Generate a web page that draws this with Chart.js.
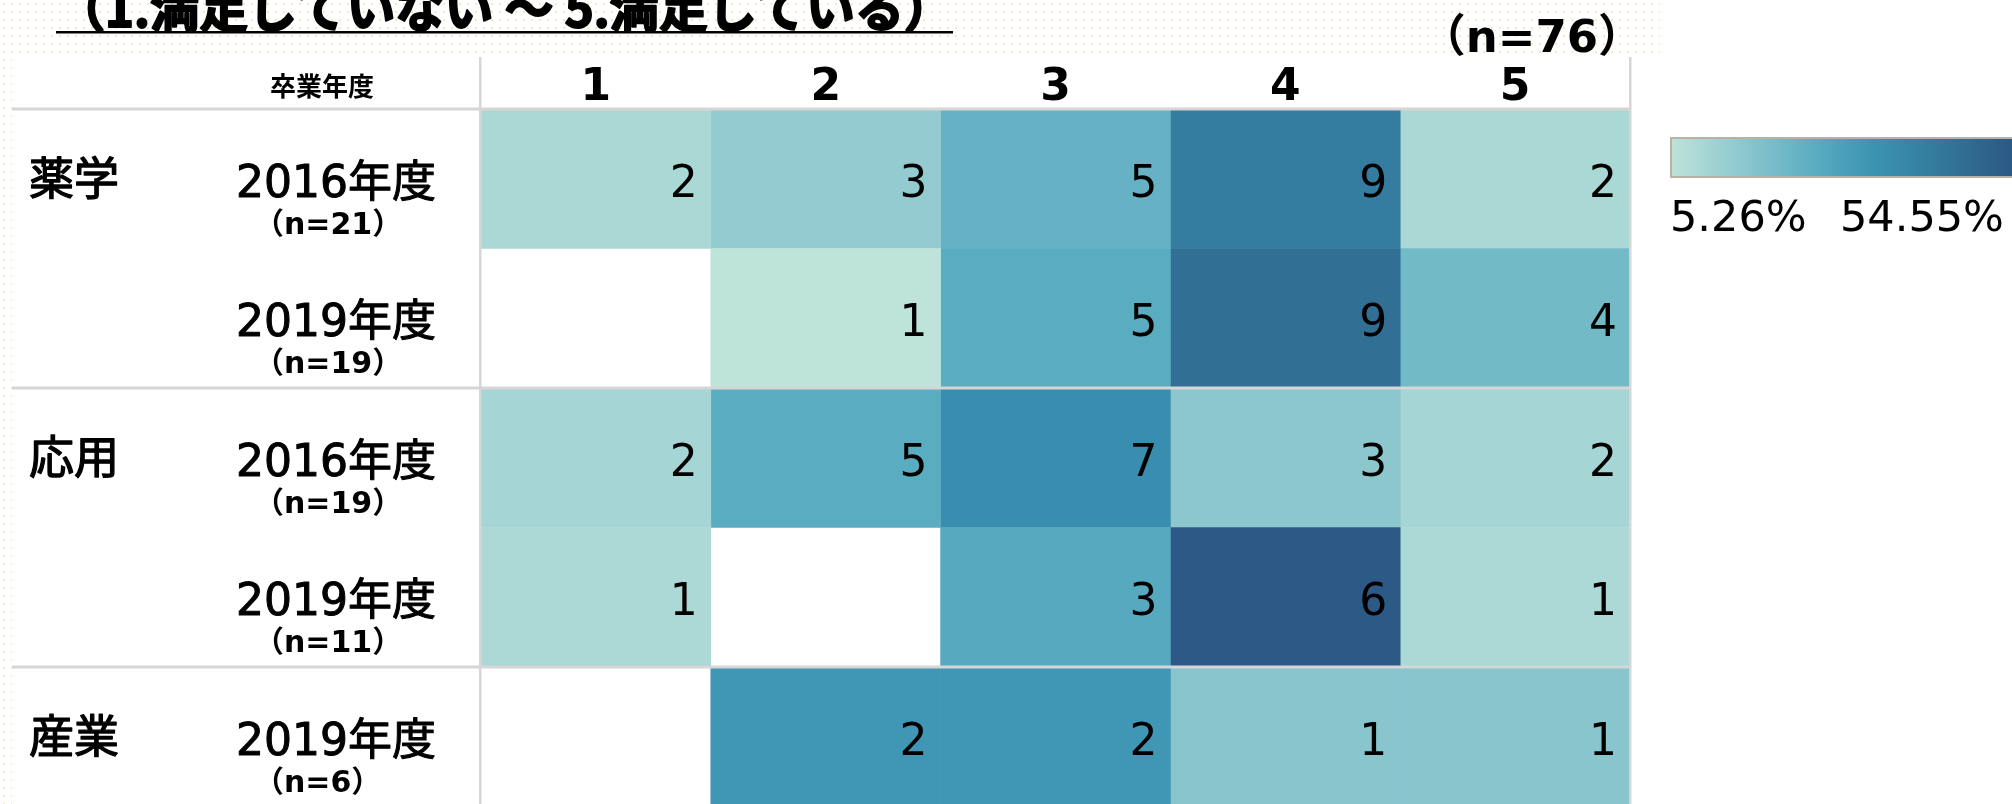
<!DOCTYPE html>
<html lang="ja">
<head>
<meta charset="utf-8">
<script src="https://cdn.jsdelivr.net/npm/chart.js@4.4.1/dist/chart.umd.min.js"></script>
<style>
  html, body { margin: 0; padding: 0; background: #fff; overflow: hidden; }
  #wrap { position: relative; width: 2012px; height: 804px; overflow: hidden; }
  .dots { position: absolute; background-image: radial-gradient(circle, #f8e7c6 1px, transparent 1.5px); background-size: 8px 8px; }
  #dotsTop { left: 0; top: 0; width: 1660px; height: 54px; }
  #dotsLeft { left: 0; top: 0; width: 12px; height: 804px; }
  canvas { position: absolute; left: 0; top: 0; }
</style>
</head>
<body>
<div id="wrap">
  <div class="dots" id="dotsTop"></div>
  <div class="dots" id="dotsLeft"></div>
  <canvas id="heatmap" width="2012" height="810"></canvas>
</div>
<script>
// --- DATOS ---
const chartTitle = '（1.満足していない ～ 5.満足している）';
const totalLabel = '（n=76）';
const headerLabel = '卒業年度';
const scoreLabels = [1, 2, 3, 4, 5];
const rowGroups = ['薬学', '', '応用', '', '産業'];
const rowYears = ['2016年度', '2019年度', '2016年度', '2019年度', '2019年度'];
const rowN = [21, 19, 19, 11, 6];
// respuestas por puntaje (1..5), un valor por fila; null = sin respuestas
const score1 = [2, null, 2, 1, null];
const score2 = [3, 1, 5, null, 2];
const score3 = [5, 5, 7, 3, 2];
const score4 = [9, 9, 3, 6, 1];
const score5 = [2, 4, 2, 1, 1];
const scoreCounts = [score1, score2, score3, score4, score5];

// --- ESCALA DE COLOR ---
const rampStops = [
    [0, [190, 227, 217]],
    [0.2, [143, 201, 207]],
    [0.45, [85, 169, 191]],
    [0.6, [59, 147, 179]],
    [0.76, [53, 125, 160]],
    [1, [44, 89, 133]]
];

function rampColor(t) {
    t = Math.max(0, Math.min(1, t));
    for (let i = 1; i < rampStops.length; i++) {
        const [t1, c1] = rampStops[i];
        const [t0, c0] = rampStops[i - 1];
        if (t <= t1) {
            const f = (t - t0) / (t1 - t0);
            const c = c0.map((v, k) => Math.round(v + (c1[k] - v) * f));
            return `rgb(${c[0]}, ${c[1]}, ${c[2]})`;
        }
    }
    return 'rgb(44, 89, 133)';
}

// porcentajes por celda -> min / max para la leyenda
const allPct = [];
scoreCounts.forEach(col => col.forEach((v, r) => { if (v != null) allPct.push(v / rowN[r]); }));
const pctMin = Math.min(...allPct);
const pctMax = Math.max(...allPct);
const legendLabels = [(pctMin * 100).toFixed(2) + '%', (pctMax * 100).toFixed(2) + '%'];

const rowLabels = rowYears.map((y, i) => `${rowGroups[i] || rowGroups[i - 1]} ${y}`);

const datasets = scoreCounts.map((counts, k) => ({
    label: String(scoreLabels[k]),
    counts: counts,
    data: counts.map(v => v == null ? null : [scoreLabels[k] - 0.5, scoreLabels[k] + 0.5]),
    backgroundColor: counts.map((v, r) => v == null ? 'rgba(0,0,0,0)' : rampColor((v / rowN[r] - pctMin) / (pctMax - pctMin))),
    borderWidth: 0,
    borderSkipped: false,
    grouped: false,
    barPercentage: 1,
    categoryPercentage: 1
}));

const CJK = '"Noto Sans CJK JP", sans-serif';
const MIX = '"DejaVu Sans", "Noto Sans CJK JP", sans-serif';

// texto con trazo para simular el grosor del original
function heavyText(ctx, text, x, y, stroke) {
    ctx.lineWidth = stroke;
    ctx.strokeStyle = ctx.fillStyle;
    ctx.lineJoin = 'round';
    ctx.strokeText(text, x, y);
    ctx.fillText(text, x, y);
}

// --- DECORACIÓN DE LA TABLA ---
const tablePlugin = {
    id: 'tableDecor',
    afterDraw(chart) {
        const ctx = chart.ctx;
        const area = chart.chartArea;
        const yScale = chart.scales.y;
        ctx.save();

        // líneas de la tabla
        ctx.fillStyle = '#d6d6d6';
        ctx.fillRect(12, area.top - 1.5, area.right - 12, 3);
        [1, 3].forEach(i => {
            const yb = (yScale.getPixelForValue(i) + yScale.getPixelForValue(i + 1)) / 2;
            ctx.fillRect(12, yb - 1.5, area.right - 12, 3);
        });
        ctx.fillRect(area.left - 2, 57, 2.5, 804 - 57);
        ctx.fillRect(area.right - 1, 57, 2.5, 804 - 57);

        // valores de las celdas
        ctx.fillStyle = '#000';
        ctx.font = '44px "DejaVu Sans", sans-serif';
        ctx.textAlign = 'right';
        ctx.textBaseline = 'alphabetic';
        chart.data.datasets.forEach((ds, di) => {
            const meta = chart.getDatasetMeta(di);
            meta.data.forEach((bar, i) => {
                if (ds.counts[i] == null) return;
                ctx.fillText(String(ds.counts[i]), bar.x - 13, bar.y + 18);
            });
        });

        // etiquetas de filas
        ctx.textAlign = 'left';
        rowYears.forEach((year, i) => {
            const cy = yScale.getPixelForValue(i);
            if (rowGroups[i]) {
                ctx.font = '45px ' + CJK;
                heavyText(ctx, rowGroups[i], 29, cy + 16, 1.3);
            }
            ctx.font = '44px ' + MIX;
            heavyText(ctx, year, 236, cy + 18, 1);
            ctx.font = 'bold 30px ' + MIX;
            ctx.fillText(`（n=${rowN[i]}）`, 254, cy + 55);
        });

        // encabezado
        ctx.font = 'bold 26px ' + CJK;
        ctx.fillText(headerLabel, 270, 96);

        // título
        ctx.font = 'bold 50px ' + CJK;
        const w = ctx.measureText(chartTitle).width;
        ctx.save();
        ctx.translate(56, 27);
        ctx.scale(897 / w, 1);
        heavyText(ctx, chartTitle, 0, 0, 2);
        ctx.restore();
        ctx.fillRect(56, 31, 897, 2.5);

        ctx.font = 'bold 45px ' + MIX;
        ctx.textAlign = 'right';
        ctx.fillText(totalLabel, 1643, 52);

        // leyenda de color
        const lx = 1671, ly = 138, lw = 345, lh = 39;
        const grad = ctx.createLinearGradient(lx, 0, lx + lw - 6, 0);
        rampStops.forEach(([t]) => grad.addColorStop(t, rampColor(t)));
        ctx.fillStyle = grad;
        ctx.fillRect(lx, ly, lw, lh);
        ctx.strokeStyle = '#b9b2a4';
        ctx.lineWidth = 2;
        ctx.strokeRect(lx, ly, lw, lh);
        ctx.fillStyle = '#000';
        ctx.font = '43px "DejaVu Sans", sans-serif';
        ctx.textAlign = 'left';
        ctx.fillText(legendLabels[0], 1670, 231);
        ctx.fillText(legendLabels[1], 1840, 231);

        ctx.restore();
    }
};

new Chart(document.getElementById('heatmap'), {
    type: 'bar',
    data: { labels: rowLabels, datasets: datasets },
    options: {
        indexAxis: 'y',
        responsive: false,
        animation: false,
        devicePixelRatio: 1,
        layout: { padding: { left: 481, right: 382, top: 0, bottom: 3.5 } },
        plugins: { legend: { display: false }, tooltip: { enabled: false } },
        scales: {
            x: {
                type: 'linear',
                position: 'top',
                min: 0.5,
                max: 5.5,
                afterBuildTicks: axis => { axis.ticks = scoreLabels.map(v => ({ value: v })); },
                afterFit: axis => { axis.height = 109; },
                grid: { display: false, drawTicks: false },
                border: { display: false },
                ticks: {
                    color: '#000',
                    font: { family: 'DejaVu Sans', size: 44, weight: 'bold' },
                    padding: -6,
                    maxRotation: 0,
                    autoSkip: false
                }
            },
            y: { type: 'category', display: false, offset: true }
        }
    },
    plugins: [tablePlugin]
});
</script>
</body>
</html>
